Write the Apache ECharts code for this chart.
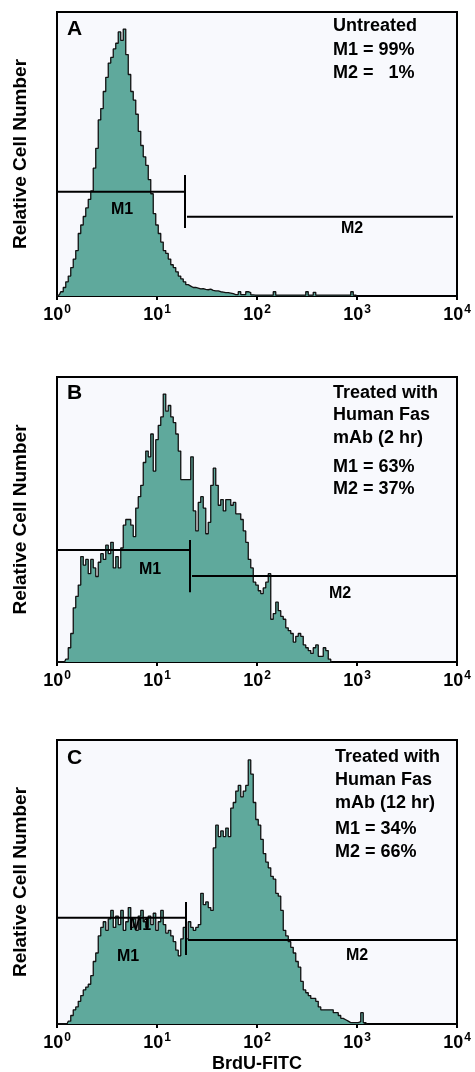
<!DOCTYPE html>
<html>
<head>
<meta charset="utf-8">
<script src="https://cdn.jsdelivr.net/npm/echarts@6/dist/echarts.min.js"></script>
<style>
  html, body { margin: 0; padding: 0; background: #fff; }
  #chart { width: 475px; height: 1072px; }
</style>
</head>
<body>
<div id="chart"></div>
<script>
// channels per decade of fluorescence (x axis runs 10^0 .. 10^4)
const channelsPerDecade = 40
const decadeTicks = [0, 1, 2, 3, 4]

// relative cell number per channel (% of plot height)
const countsA = [0, 0.5, 1.5, 3, 5, 7, 10, 13, 16, 22, 25, 28, 31, 34, 37, 45, 52, 62, 66, 72,
  77, 82, 84, 87, 89, 93, 90, 94, 85, 78, 72, 69, 64, 58, 53, 49, 46, 41, 36, 29,
  25, 22, 19, 16, 15, 13, 11, 10, 8.5, 7, 6, 5, 4, 3.5, 3, 3, 2.8, 2.5, 2.6, 2.3,
  2.2, 2.4, 2, 1.8, 1.8, 1.5, 1.4, 1.2, 1.2, 1, 0.8, 0.5, 0.5, 1.5, 0.5, 0.5, 1.5, 1.2, 0.4, 0.3,
  0.3, 0.3, 0.3, 0.3, 0.3, 0.3, 0.3, 1.5, 0.3, 0.3, 0.3, 0.3, 0.3, 0.3, 0.3, 0.3, 0.3, 0.3, 0.3, 0.3,
  1.5, 0.3, 0.3, 1.3, 0.3, 0.3, 0.3, 0.3, 0.3, 0.3, 0.3, 0.3, 0.3, 0.3, 0.3, 0.3, 0.3, 0.3, 1.5, 0.3, 0]

const countsB = [0, 0, 0, 0, 1, 5, 10, 19, 23, 27, 37, 34, 36, 31, 36, 33, 30, 35, 38, 36,
  41, 38, 42, 33, 37, 33, 40, 48, 50, 50, 48, 44, 54, 58, 62, 70, 74, 72, 80, 67,
  78, 83, 86, 94, 88, 90, 86, 84, 80, 74, 64, 64, 64, 64, 72, 53, 46, 56, 58, 54,
  45, 49, 62, 68, 62, 55, 57, 53, 57, 57, 55, 56, 52, 52, 50, 46, 42, 36, 33, 28,
  27, 25, 24, 26, 28, 31, 15, 17, 21, 18, 16, 15, 12, 11, 10, 7, 9, 10, 9, 6,
  5, 4, 3, 5, 6, 2, 2, 5, 4, 1, 0]

const countsC = [0, 0, 0, 0, 0, 1, 3, 5, 6, 8, 10, 12, 13, 14, 17, 22, 25, 31, 34, 36,
  33, 37, 40, 34, 38, 35, 40, 33, 36, 41, 34, 37, 33, 38, 40, 36, 34, 38, 35, 39,
  33, 36, 40, 35, 32, 33, 31, 29, 26, 24, 30, 34, 30, 36, 34, 33, 34, 35, 46, 42,
  43, 41, 40, 62, 70, 66, 68, 66, 69, 66, 76, 78, 82, 84, 80, 82, 84, 93, 88, 78,
  72, 70, 65, 60, 57, 55, 52, 51, 46, 45, 40, 33, 31, 29, 27, 25, 22, 20, 15, 12,
  11, 10, 9, 9, 8, 6, 5, 5, 5, 5, 5, 4, 4, 3, 2, 1.5, 1, 0.5, 0.5, 0.5,
  0.5, 0.8, 4, 0.5, 0]

// gates: [start decade, end decade, level]
const gatesA = { m1: [0, 1.28, 36.7], tick: [1.28, 42.6, 23.9], m2: [1.30, 3.96, 27.9] }
const gatesB = { m1: [0, 1.33, 39.3], tick: [1.33, 42.8, 24.5], m2: [1.35, 4.0, 30.2] }
const gatesC = { m1: [0, 1.29, 37.4], tick: [1.29, 43.0, 24.3], m2: [1.31, 4.0, 29.6] }

const panelTexts = [
  ['Untreated', 'M1 = 99%', 'M2 =   1%'],
  ['Treated with', 'Human Fas', 'mAb (2 hr)', 'M1 = 63%', 'M2 = 37%'],
  ['Treated with', 'Human Fas', 'mAb (12 hr)', 'M1 = 34%', 'M2 = 66%'],
]

const font = '"Liberation Sans", Arial, sans-serif'
const tealFill = '#5fa99c'

const grids = [
  { left: 57, right: 18, top: 12, height: 284 },
  { left: 57, right: 18, top: 377, height: 285 },
  { left: 57, right: 18, top: 740, height: 284 },
]

function xAxisFor(i) {
  return {
    gridIndex: i, type: 'value', min: 0, max: 4, interval: 1,
    axisLine: { lineStyle: { color: '#000', width: 2 } },
    axisTick: { show: true, length: 4, lineStyle: { color: '#000', width: 2 } },
    splitLine: { show: false },
    axisLabel: {
      margin: 8,
      formatter: v => '{b|10}{s|' + decadeTicks[v] + '}',
      rich: {
        b: { fontSize: 18, fontWeight: 'bold', fontFamily: font, color: '#000', lineHeight: 20, verticalAlign: 'bottom' },
        s: { fontSize: 12, fontWeight: 'bold', fontFamily: font, color: '#000', lineHeight: 20, verticalAlign: 'top', padding: [0, 0, 7, 1] },
      },
    },
    name: i === 2 ? 'BrdU-FITC' : '',
    nameLocation: 'middle', nameGap: 31,
    nameTextStyle: { fontSize: 18, fontWeight: 'bold', fontFamily: font, color: '#000' },
  }
}

function yAxisFor(i) {
  return {
    gridIndex: i, type: 'value', min: 0, max: 100,
    axisLine: { show: true, lineStyle: { color: '#000', width: 2 } },
    axisTick: { show: false }, axisLabel: { show: false }, splitLine: { show: false },
    name: 'Relative Cell Number', nameLocation: 'middle', nameGap: 27,
    nameTextStyle: { fontSize: 19, fontWeight: 'bold', fontFamily: font, color: '#000' },
  }
}

function histSeries(counts, i) {
  return {
    type: 'line', xAxisIndex: i, yAxisIndex: i, step: 'middle', symbol: 'none',
    data: counts.map((v, c) => [c / channelsPerDecade, v]),
    lineStyle: { color: '#111', width: 1.3 },
    areaStyle: { color: tealFill, opacity: 1 },
    z: 2, silent: true,
  }
}

function gateSeries(g, i) {
  return {
    type: 'line', xAxisIndex: i, yAxisIndex: i, symbol: 'none', connectNulls: false,
    data: [[g.m1[0], g.m1[2]], [g.m1[1], g.m1[2]], '-',
      [g.tick[0], g.tick[1]], [g.tick[0], g.tick[2]], '-',
      [g.m2[0], g.m2[2]], [g.m2[1], g.m2[2]]],
    lineStyle: { color: '#000', width: 2 },
    z: 4, silent: true,
  }
}

function txt(text, x, y, size, align) {
  return {
    type: 'text', x: x, y: y, z: 10,
    style: { text: text, fill: '#000', font: 'bold ' + size + 'px ' + font, textAlign: align || 'left', textVerticalAlign: 'middle' },
  }
}

const graphics = []
const letters = [['A', 29], ['B', 393], ['C', 758]]
letters.forEach(l => graphics.push(txt(l[0], 67, l[1], 21)))
const textTops = [[333, 26], [333, 393], [335, 757]]
const lineGaps = [[0, 24, 47], [0, 22, 45, 74, 96], [0, 23, 46, 72, 95]]
panelTexts.forEach((lines, p) => {
  lines.forEach((t, k) => graphics.push(txt(t, textTops[p][0], textTops[p][1] + lineGaps[p][k], 18)))
})
const gateLabels = [['M1', 122, 210], ['M2', 352, 229], ['M1', 150, 570], ['M2', 340, 594],
  ['M1', 128, 957], ['M1', 140, 926], ['M2', 357, 956]]
gateLabels.forEach(g => graphics.push(txt(g[0], g[1], g[2], 16, 'center')))

const chart = echarts.init(document.getElementById('chart'), null, { renderer: 'canvas' })
chart.setOption({
  animation: false,
  backgroundColor: '#fff',
  grid: grids.map(g => Object.assign({
    show: true, backgroundColor: '#f8f9fd', borderColor: '#000', borderWidth: 2,
    containLabel: false, outerBoundsMode: 'none',
  }, g)),
  xAxis: [0, 1, 2].map(xAxisFor),
  yAxis: [0, 1, 2].map(yAxisFor),
  series: [
    histSeries(countsA, 0), gateSeries(gatesA, 0),
    histSeries(countsB, 1), gateSeries(gatesB, 1),
    histSeries(countsC, 2), gateSeries(gatesC, 2),
  ],
  graphic: graphics,
})
</script>
</body>
</html>
